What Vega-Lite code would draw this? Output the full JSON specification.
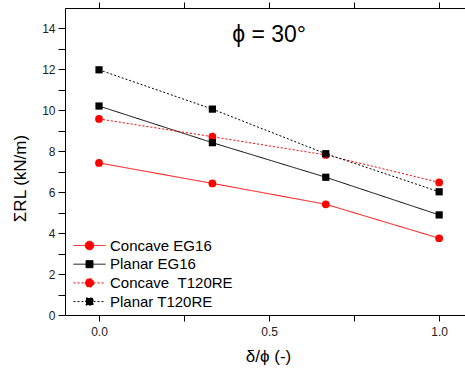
{
  "$schema": "https://vega.github.io/schema/vega-lite/v6.json",
  "width": 400,
  "height": 307,
  "autosize": {"type": "none"},
  "padding": {"left": 65, "top": 8, "right": 0, "bottom": 55},
  "config": {
    "view": {"stroke": null},
    "font": "Liberation Sans",
    "axis": {"domainColor": "black", "domainWidth": 1, "tickColor": "black", "tickWidth": 1, "labelColor": "#222", "labelFont": "Liberation Sans", "titleFont": "Liberation Sans", "titleColor": "black", "titleFontWeight": "normal", "grid": false}
  },
  "datasets": {
    "main": [
      {"series": "Concave EG16", "x": 0, "y": 7.43},
      {"series": "Concave EG16", "x": 0.3333, "y": 6.43},
      {"series": "Concave EG16", "x": 0.6667, "y": 5.41},
      {"series": "Concave EG16", "x": 1, "y": 3.75},
      {"series": "Planar EG16", "x": 0, "y": 10.21},
      {"series": "Planar EG16", "x": 0.3333, "y": 8.42},
      {"series": "Planar EG16", "x": 0.6667, "y": 6.73},
      {"series": "Planar EG16", "x": 1, "y": 4.89},
      {"series": "Concave \u00a0T120RE", "x": 0, "y": 9.58},
      {"series": "Concave \u00a0T120RE", "x": 0.3333, "y": 8.71},
      {"series": "Concave \u00a0T120RE", "x": 0.6667, "y": 7.82},
      {"series": "Concave \u00a0T120RE", "x": 1, "y": 6.48},
      {"series": "Planar T120RE", "x": 0, "y": 11.98},
      {"series": "Planar T120RE", "x": 0.3333, "y": 10.06},
      {"series": "Planar T120RE", "x": 0.6667, "y": 7.88},
      {"series": "Planar T120RE", "x": 1, "y": 6.02}
    ],
    "anno": [{"x": 0.5, "y": 13.35, "label": "ϕ = 30°"}]
  },
  "encoding": {
    "y": {
      "field": "y", "type": "quantitative",
      "scale": {"domain": [0, 15], "nice": false, "zero": false},
      "axis": {
        "values": [0, 1, 2, 3, 4, 5, 6, 7, 8, 9, 10, 11, 12, 13, 14],
        "labelExpr": "datum.value % 2 === 0 ? datum.value : ''",
        "tickSize": 7, "labelPadding": 3, "labelFontSize": 12, "labelOverlap": false, "labelFlush": false,
        "title": "ΣRL (kN/m)", "titleFontSize": 17, "titleAngle": 270, "titleX": -40, "titleY": 170, "titleAlign": "center", "titleBaseline": "alphabetic",
        "encode": {"ticks": {"update": {"x2": {"signal": "datum.value % 2 === 0 ? -7 : -3"}}}}
      }
    }
  },
  "layer": [
    {
      "data": {"name": "main"},
      "mark": {"type": "line", "strokeWidth": 1},
      "encoding": {
        "x": {
          "field": "x", "type": "quantitative",
          "scale": {"domain": [-0.1, 1.076], "nice": false, "zero": false},
          "axis": {
            "values": [0, 0.25, 0.5, 0.75, 1],
            "labelExpr": "datum.value == 0.25 || datum.value == 0.75 ? '' : format(datum.value, '.1f')",
            "tickSize": 6, "labelPadding": 5, "labelFontSize": 12, "labelOverlap": false, "labelFlush": false,
            "title": "δ/ϕ (-)", "titleFontSize": 17, "titleX": 203, "titleY": 46, "titleBaseline": "alphabetic",
            "encode": {"ticks": {"update": {"y2": {"signal": "datum.value == 0.25 || datum.value == 0.75 ? 4 : 6"}}}}
          }
        },
        "color": {
          "field": "series", "type": "nominal",
          "scale": {"domain": ["Concave EG16", "Planar EG16", "Concave \u00a0T120RE", "Planar T120RE"], "range": ["#ff0000", "#000000", "#ff0000", "#000000"]},
          "legend": {
            "title": null, "orient": "none", "legendX": 15, "legendY": 228, "direction": "vertical",
            "labelFontSize": 15, "labelFont": "Liberation Sans", "labelColor": "black", "labelLimit": 300,
            "symbolSize": 324, "labelOffset": 11, "rowPadding": 0.7, "padding": 0,
            "encode": {
              "symbols": {"update": {
                "shape": {"signal": "indexof(datum.value, 'Concave') === 0 ? 'M-1.78,0H1.78M0.48,0A0.48,0.48,0,1,1,-0.48,0A0.48,0.48,0,1,1,0.48,0Z' : 'M-1.78,0H1.78M-0.39,-0.39H0.39V0.39H-0.39Z'"},
                "size": {"value": 324},
                "fill": {"scale": "color", "field": "value"},
                "stroke": {"scale": "color", "field": "value"},
                "strokeDash": {"signal": "indexof(datum.value, 'T120RE') >= 0 ? [2, 2] : [1, 0]"},
                "strokeWidth": {"value": 1},
                "opacity": {"value": 1},
                "fillOpacity": {"value": 1},
                "strokeOpacity": {"value": 1}
              }}
            }
          }
        },
        "strokeDash": {
          "field": "series", "type": "nominal",
          "scale": {"domain": ["Concave EG16", "Planar EG16", "Concave \u00a0T120RE", "Planar T120RE"], "range": [[1, 0], [1, 0], [2, 2], [2, 2]]},
          "legend": null
        }
      }
    },
    {
      "data": {"name": "main"},
      "transform": [{"filter": "indexof(datum.series, 'Concave') === 0"}],
      "mark": {"type": "point", "shape": "circle", "filled": true, "opacity": 1, "strokeWidth": 0, "size": 60},
      "encoding": {
        "x": {
          "field": "x", "type": "quantitative",
          "axis": {"orient": "top", "values": [0, 0.25, 0.5, 0.75, 1], "labels": false, "title": null, "tickSize": 6,
            "encode": {"ticks": {"update": {"y2": {"value": 6}}}}}
        },
        "color": {"field": "series", "type": "nominal"}
      }
    },
    {
      "data": {"name": "main"},
      "transform": [{"filter": "indexof(datum.series, 'Planar') === 0"}],
      "mark": {"type": "point", "shape": "square", "filled": true, "opacity": 1, "strokeWidth": 0, "size": 52},
      "encoding": {
        "x": {"field": "x", "type": "quantitative", "axis": null},
        "color": {"field": "series", "type": "nominal"}
      }
    },
    {
      "data": {"name": "anno"},
      "mark": {"type": "text", "align": "center", "baseline": "alphabetic", "fontSize": 23, "font": "Liberation Sans", "color": "black"},
      "encoding": {
        "x": {"field": "x", "type": "quantitative", "axis": null},
        "text": {"field": "label"}
      }
    }
  ],
  "resolve": {"axis": {"x": "independent"}}
}
